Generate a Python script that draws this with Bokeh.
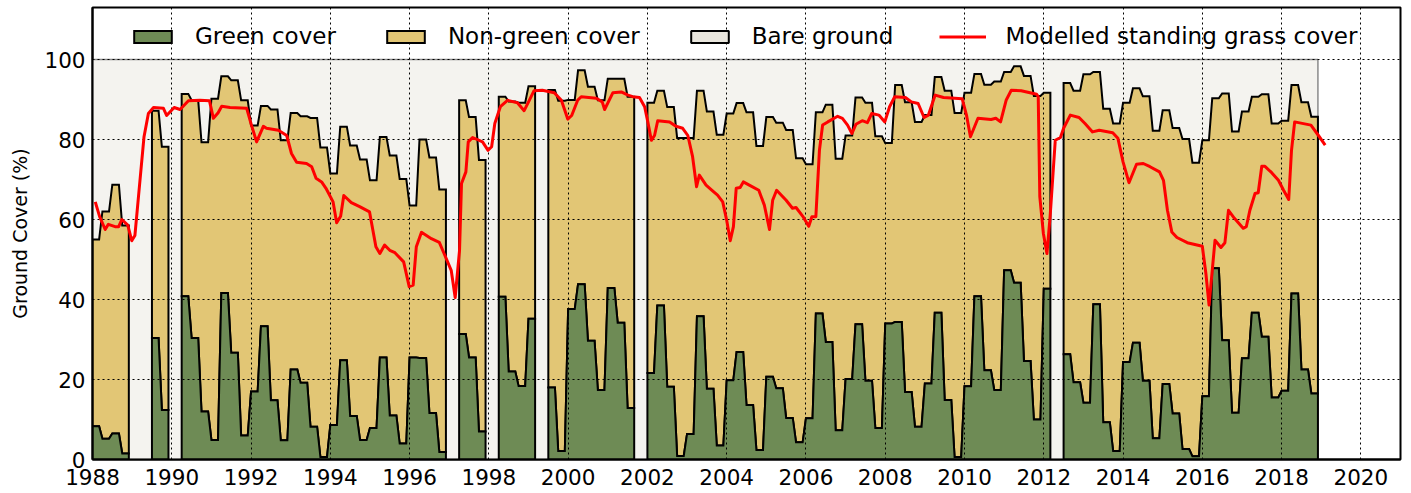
import math
from bokeh.plotting import figure
from bokeh.models import Range1d, FixedTicker, Legend, LegendItem
from bokeh.embed import file_html
from bokeh.resources import INLINE

NaN = float("nan")

# seasonal (quarterly) observations, Q1..Q4 of each year; NaN = no observation
years = list(range(1988, 2019))

green_cover = [
    8.3, 5.2, 6.5, 1.5,        # 1988
    NaN, NaN, 30.4, 12.4,      # 1989
    NaN, 40.8, 30.4, 12.0,     # 1990
    4.9, 41.6, 26.7, 6.0,      # 1991
    17.0, 33.3, 14.8, 4.8,     # 1992
    22.5, 19.2, 8.2, 0.6,      # 1993
    8.6, 24.8, 10.9, 4.9,      # 1994
    7.9, 25.5, 11.0, 4.0,      # 1995
    25.5, 25.4, 11.6, 1.9,     # 1996
    NaN, 31.4, 25.5, 7.0,      # 1997
    NaN, 40.7, 22.0, 18.4,     # 1998
    35.2, NaN, 18.0, 2.1,      # 1999
    37.6, 43.8, 29.7, 17.4,    # 2000
    42.9, 34.2, 12.9, NaN,     # 2001
    21.6, 38.5, 18.2, 0.9,     # 2002
    6.4, 35.8, 17.7, 3.5,      # 2003
    19.8, 26.9, 13.6, 2.4,     # 2004
    20.7, 17.8, 10.4, 4.3,     # 2005
    10.3, 36.5, 29.4, 7.3,     # 2006
    20.1, 33.8, 19.7, 7.9,     # 2007
    34.0, 34.4, 16.9, 8.2,     # 2008
    19.0, 36.7, 14.9, 0.6,     # 2009
    18.3, 40.8, 22.3, 17.4,    # 2010
    47.3, 44.2, 24.6, 10.0,    # 2011
    42.7, NaN, 26.3, 19.3,     # 2012
    14.2, 38.8, 9.3, 2.1,      # 2013
    24.4, 29.2, 19.7, 5.3,     # 2014
    18.9, 11.5, 2.6, 0.8,      # 2015
    15.8, 47.8, 29.8, 11.7,    # 2016
    25.3, 36.7, 30.7, 15.5,    # 2017
    17.2, 41.5, 22.5, 16.5,    # 2018
]

non_green_cover = [
    46.7, 56.8, 62.2, 57.0,    # 1988
    NaN, NaN, 56.8, 65.8,      # 1989
    NaN, 50.6, 59.4, 67.3,     # 1990
    85.3, 54.2, 68.1, 83.8,    # 1991
    66.5, 55.1, 72.7, 75.0,    # 1992
    64.1, 66.6, 77.2, 77.4,    # 1993
    62.9, 58.4, 67.6, 70.1,    # 1994
    61.9, 55.1, 65.0, 66.1,    # 1995
    38.0, 54.6, 63.9, 65.6,    # 1996
    NaN, 58.4, 60.1, 67.9,     # 1997
    NaN, 50.0, 67.5, 70.8,     # 1998
    58.1, NaN, 74.4, 87.6,     # 1999
    52.3, 53.5, 63.5, 72.4,    # 2000
    52.3, 61.0, 77.8, NaN,     # 2001
    67.6, 53.7, 69.9, 79.5,    # 2002
    74.0, 56.4, 69.3, 77.7,    # 2003
    66.7, 62.2, 73.2, 76.0,    # 2004
    64.9, 66.4, 72.0, 71.0,    # 2005
    63.5, 50.3, 59.3, 67.9,    # 2006
    60.9, 56.7, 69.5, 72.9,    # 2007
    45.1, 59.2, 72.4, 76.2,    # 2008
    67.1, 58.9, 77.3, 86.0,    # 2009
    73.4, 55.6, 71.4, 77.1,    # 2010
    49.6, 54.1, 71.3, 80.9,    # 2011
    49.0, NaN, 67.8, 72.9,     # 2012
    82.1, 58.1, 78.4, 81.9,    # 2013
    64.8, 63.6, 71.1, 76.9,    # 2014
    68.4, 71.4, 77.5, 73.4,    # 2015
    64.0, 42.5, 61.7, 70.3,    # 2016
    61.7, 54.0, 60.6, 68.5,    # 2017
    67.5, 52.1, 66.8, 69.2,    # 2018
]

# modelled standing grass cover (decimal year, %)
model_t = [
    1988.07, 1988.18, 1988.32, 1988.40, 1988.57, 1988.66, 1988.74, 1988.89, 1988.99,
    1989.07, 1989.16, 1989.30, 1989.41, 1989.54, 1989.79, 1989.87, 1990.06, 1990.21,
    1990.42, 1990.71, 1990.95, 1991.05, 1991.17, 1991.26, 1991.47, 1991.89, 1992.01,
    1992.14, 1992.31, 1992.39, 1992.69, 1992.90, 1993.02, 1993.15, 1993.40, 1993.53,
    1993.64, 1993.78, 1993.89, 1994.07, 1994.16, 1994.26, 1994.34, 1994.53, 1994.74,
    1994.99, 1995.15, 1995.25, 1995.37, 1995.50, 1995.63, 1995.85, 1995.99, 1996.09,
    1996.17, 1996.30, 1996.55, 1996.75, 1996.87, 1997.05, 1997.15, 1997.26, 1997.31,
    1997.42, 1997.48, 1997.59, 1997.84, 1997.98, 1998.07, 1998.15, 1998.29, 1998.47,
    1998.72, 1998.89, 1999.02, 1999.14, 1999.35, 1999.65, 1999.83, 1999.99, 2000.09,
    2000.24, 2000.33, 2000.71, 2000.86, 2000.92, 2001.13, 2001.34, 2001.51, 2001.63,
    2001.80, 2001.93, 2002.01, 2002.10, 2002.18, 2002.26, 2002.56, 2002.72, 2002.89,
    2003.02, 2003.14, 2003.24, 2003.31, 2003.48, 2003.63, 2003.77, 2003.90, 2004.00,
    2004.09, 2004.17, 2004.24, 2004.34, 2004.42, 2004.57, 2004.81, 2004.95, 2005.08,
    2005.16, 2005.26, 2005.50, 2005.66, 2005.75, 2005.92, 2006.07, 2006.15, 2006.25,
    2006.34, 2006.42, 2006.55, 2006.80, 2006.92, 2007.05, 2007.16, 2007.26, 2007.42,
    2007.55, 2007.66, 2007.84, 2007.99, 2008.11, 2008.24, 2008.51, 2008.66, 2008.83,
    2008.98, 2009.09, 2009.26, 2009.47, 2009.94, 2010.05, 2010.15, 2010.34, 2010.67,
    2010.79, 2010.91, 2011.05, 2011.18, 2011.43, 2011.82, 2011.86, 2011.90, 2011.99,
    2012.08, 2012.16, 2012.29, 2012.42, 2012.50, 2012.67, 2012.89, 2013.04, 2013.23,
    2013.40, 2013.74, 2013.87, 2014.00, 2014.15, 2014.34, 2014.51, 2014.68, 2014.92,
    2015.02, 2015.12, 2015.23, 2015.36, 2015.62, 2016.00, 2016.09, 2016.17, 2016.32,
    2016.47, 2016.57, 2016.66, 2016.81, 2017.03, 2017.11, 2017.20, 2017.33, 2017.41,
    2017.50, 2017.58, 2017.75, 2017.92, 2018.05, 2018.18, 2018.25, 2018.33, 2018.74,
    2018.93, 2019.10,
]
model_v = [
    64.4, 60.7, 57.5, 58.8, 58.2, 58.2, 60.0, 58.6, 54.7,
    56.0, 65.7, 80.7, 86.5, 88.0, 87.8, 86.0, 88.0, 87.5,
    89.7, 89.8, 89.7, 85.3, 86.7, 88.3, 88.0, 87.8, 83.6,
    79.4, 83.3, 82.8, 82.3, 81.0, 76.5, 74.3, 74.0, 73.2,
    70.3, 69.4, 67.8, 64.4, 59.2, 60.8, 66.0, 64.2, 63.2,
    61.9, 53.2, 51.5, 53.6, 52.3, 51.7, 49.4, 43.2, 43.6,
    53.2, 56.8, 55.2, 54.3, 51.5, 47.3, 40.5, 52.3, 69.0,
    71.9, 79.4, 80.5, 79.4, 77.3, 78.2, 84.0, 88.2, 89.8,
    89.2, 87.2, 89.8, 92.2, 92.3, 91.7, 89.8, 85.1, 86.0,
    89.8, 90.7, 90.3, 89.4, 87.5, 91.7, 91.9, 91.1, 90.7,
    90.5, 88.2, 84.4, 79.8, 81.0, 84.7, 84.4, 83.3, 82.8,
    81.0, 75.7, 68.2, 71.1, 68.6, 67.3, 66.1, 64.4, 59.8,
    54.7, 58.2, 67.8, 68.0, 69.4, 68.6, 67.3, 63.6, 57.5,
    64.8, 67.3, 64.8, 62.8, 63.0, 60.8, 58.3, 60.7, 60.7,
    77.3, 83.6, 84.4, 85.8, 85.3, 83.6, 81.5, 83.8, 84.7,
    84.2, 86.5, 86.1, 84.4, 88.2, 90.7, 90.5, 89.4, 89.0,
    85.5, 86.1, 91.1, 90.5, 90.2, 86.1, 80.7, 85.3, 85.0,
    85.3, 84.4, 89.8, 92.3, 92.2, 91.3, 90.7, 65.7, 56.5,
    51.5, 60.7, 79.8, 80.5, 82.8, 86.1, 85.5, 84.0, 81.9,
    82.3, 81.7, 80.3, 74.4, 69.2, 73.8, 74.0, 73.2, 71.9,
    69.8, 62.3, 56.9, 55.5, 54.2, 53.3, 46.5, 38.6, 54.8,
    53.0, 54.2, 62.3, 60.3, 57.8, 58.2, 62.3, 66.5, 66.7,
    73.3, 73.3, 71.7, 69.8, 67.3, 65.0, 77.3, 84.4, 83.6,
    81.0, 78.6,
]

x_ticks = list(range(1988, 2021, 2))
y_ticks = [0, 20, 40, 60, 80, 100]

GREEN = "#6e8b55"
NONGREEN = "#e2c675"
BARE = "#f4f3ef"
BARE_LEGEND = "#e9e6dd"
FONT = "DejaVu Sans"

# ---- build outlines: each season value held for 2 months, 1 month ramp ----
PLATEAU = 1.0 / 6.0
quarter_start = [y + 0.25 * q for y in years for q in range(4)]
blocks, cur = [], []
for t, g, n in zip(quarter_start, green_cover, non_green_cover):
    if math.isnan(g) or math.isnan(n):
        if cur:
            blocks.append(cur)
            cur = []
    else:
        cur.append((t, g, n))
if cur:
    blocks.append(cur)

g_xs, g_ys, n_xs, n_ys = [], [], [], []
for b in blocks:
    xs, gy, ty = [], [], []
    for t, g, n in b:
        xs += [t, t + PLATEAU]
        gy += [g, g]
        ty += [g + n, g + n]
    g_xs.append([xs[0]] + xs + [xs[-1]])
    g_ys.append([0] + gy + [0])
    n_xs.append(xs + xs[::-1])
    n_ys.append(ty + gy[::-1])
data_end = blocks[-1][-1][0] + PLATEAU

p = figure(width=1411, height=493, output_backend="svg", toolbar_location=None,
           x_range=Range1d(1988, 2021), y_range=Range1d(0, 113),
           min_border_left=92, min_border_right=11, min_border_top=7, min_border_bottom=34)
p.title.visible = False
p.background_fill_color = "white"
p.border_fill_color = "white"
p.outline_line_color = "black"
p.outline_line_width = 2

bare = p.quad(left=[years[0]], right=[data_end], bottom=[0], top=[100],
              fill_color=BARE, line_color="#8a8a8a", line_width=1.5)
ng = p.patches(n_xs, n_ys, fill_color=NONGREEN, line_color="black", line_width=2,
               line_join="miter")
gr = p.patches(g_xs, g_ys, fill_color=GREEN, line_color="black", line_width=2,
               line_join="miter")
bare_leg = p.quad(left=[0], right=[0], bottom=[0], top=[0],
                  fill_color=BARE_LEGEND, line_color="black", line_width=2)
red = p.line(model_t, model_v, line_color="#ff0000", line_width=3, line_join="round")
red.level = "annotation"

for ax in (p.xaxis[0], p.yaxis[0]):
    ax.axis_line_color = "black"
    ax.axis_line_width = 2
    ax.major_tick_in = 0
    ax.major_tick_out = 0
    ax.minor_tick_in = 0
    ax.minor_tick_out = 0
    ax.major_label_text_font = FONT
    ax.major_label_text_font_size = "21.5px"
    ax.major_label_text_color = "black"

p.xaxis.ticker = FixedTicker(ticks=x_ticks)
p.yaxis.ticker = FixedTicker(ticks=y_ticks)
p.xaxis.major_label_standoff = 9
p.yaxis.major_label_standoff = 7
p.yaxis.axis_label = "Ground Cover (%)"
p.yaxis.axis_label_text_font = FONT
p.yaxis.axis_label_text_font_size = "19px"
p.yaxis.axis_label_text_font_style = "normal"
p.yaxis.axis_label_text_color = "black"
p.yaxis.axis_label_standoff = 10

for g in (p.xgrid[0], p.ygrid[0]):
    g.grid_line_color = "black"
    g.grid_line_dash = "2 3"
    g.grid_line_width = 1
    g.level = "guide"
p.xgrid.ticker = FixedTicker(ticks=x_ticks)
p.ygrid.ticker = FixedTicker(ticks=y_ticks)

legend = Legend(items=[
    LegendItem(label="Green cover", renderers=[gr]),
    LegendItem(label="Non-green cover", renderers=[ng]),
    LegendItem(label="Bare ground", renderers=[bare_leg]),
    LegendItem(label="Modelled standing grass cover", renderers=[red]),
], orientation="horizontal", location=(37, 410), padding=0, margin=0,
   spacing=46, glyph_width=47, glyph_height=15, label_standoff=19, label_height=15,
   label_text_font=FONT, label_text_font_size="23px", label_text_color="black",
   border_line_color=None, background_fill_alpha=0)
p.add_layout(legend)

open("out.html", "w").write(file_html(p, INLINE))
